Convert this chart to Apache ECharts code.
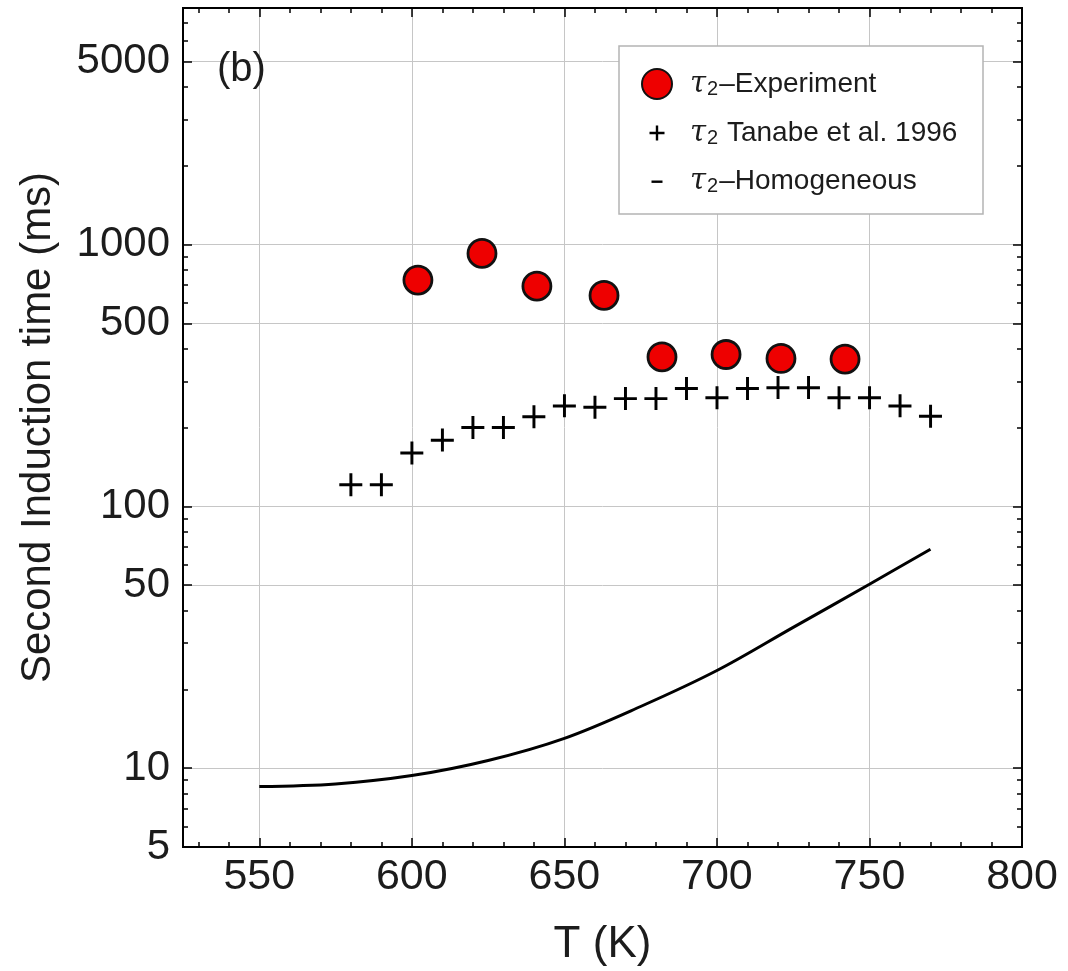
<!DOCTYPE html>
<html><head><meta charset="utf-8">
<script src="https://cdn.jsdelivr.net/npm/echarts@6/dist/echarts.min.js"></script>
<style>html,body{margin:0;padding:0;background:#fff}#c{width:1068px;height:971px}</style>
</head><body><div id="c"></div>
<script>
// ---- data ----
const expT   = [602, 623, 641, 663, 682, 703, 721, 742];
const expTau = [731, 924, 693, 639, 372, 380, 367, 365];
const tanT   = [580, 590, 600, 610, 620, 630, 640, 650, 660, 670, 680, 690, 700, 710, 720, 730, 740, 750, 760, 770];
const tanTau = [121, 121, 160, 179, 200, 200, 220, 242, 239, 258, 258, 282, 260, 282, 284, 284, 260, 260, 242, 221];
const homT   = [550, 575, 600, 625, 650, 675, 700, 725, 750, 770];
const homTau = [8.51, 8.71, 9.37, 10.7, 13.0, 17.2, 23.6, 34.5, 50.4, 68.6];
const xMajor = [550, 600, 650, 700, 750, 800];
const xMinor = [530, 540, 560, 570, 580, 590, 610, 620, 630, 640, 660, 670, 680, 690, 710, 720, 730, 740, 760, 770, 780, 790];
const yMajor = [5, 10, 50, 100, 500, 1000, 5000];
const yMinor = [6, 7, 8, 9, 20, 30, 40, 60, 70, 80, 90, 200, 300, 400, 600, 700, 800, 900, 2000, 3000, 4000, 6000, 7000];
const names = ['τ2–Experiment', 'τ2 Tanabe et al. 1996', 'τ2–Homogeneous'];

const FONT = 'Liberation Sans, Arial, sans-serif';
const TXT = '#1c1c1c';
const plusPath = 'path://M11,0 H14.2 V11 H25 V14.2 H14.2 V25 H11 V14.2 H0 V11 H11 Z';
const plusIcon = 'path://M0,0 M30,30 M13.8,7.5 H16.2 V13.8 H22.5 V16.2 H16.2 V22.5 H13.8 V16.2 H7.5 V13.8 H13.8 Z';
const dashIcon = 'path://M0,0 M30,30 M9.5,14.5 H20.5 V16.9 H9.5 Z';

const zip = (a, b) => a.map((v, i) => [v, b[i]]);

function xAx(pos, vals, len, withLabels, withGrid) {
  return {
    type: 'value', position: pos, min: 525, max: 800,
    axisLine: { show: true, onZero: false, lineStyle: { color: '#000', width: 2 } },
    axisTick: { show: true, inside: true, length: len, customValues: vals, lineStyle: { color: '#000', width: 1.5 } },
    axisLabel: withLabels ? { show: true, customValues: vals, fontSize: 43, fontFamily: FONT, color: TXT, margin: 9,
      formatter: v => String(Math.round(v)) } : { show: false },
    splitLine: { show: withGrid, lineStyle: { color: '#c6c6c6', width: 1 } },
    name: withLabels ? 'T (K)' : '', nameLocation: 'middle', nameGap: 76,
    nameTextStyle: { fontSize: 44, fontFamily: FONT, color: TXT }
  };
}
function yAx(pos, vals, len, withLabels, withGrid) {
  return {
    type: 'log', logBase: 10, position: pos, min: 5, max: 8000,
    axisLine: { show: true, onZero: false, lineStyle: { color: '#000', width: 2 } },
    axisTick: { show: true, inside: true, length: len, customValues: vals, lineStyle: { color: '#000', width: 1.5 } },
    axisLabel: withLabels ? { show: true, customValues: vals, fontSize: 42, fontFamily: FONT, color: TXT, margin: 13,
      formatter: v => String(Math.round(v)) } : { show: false },
    splitLine: { show: withGrid, lineStyle: { color: '#c6c6c6', width: 1 } },
    name: withLabels ? 'Second Induction time (ms)' : '', nameLocation: 'middle', nameGap: 124,
    nameTextStyle: { fontSize: 42, fontFamily: FONT, color: TXT }
  };
}

const chart = echarts.init(document.getElementById('c'), null, { renderer: 'canvas' });
chart.setOption({
  backgroundColor: '#fff',
  animation: false,
  grid: { left: 183, right: 46, top: 8, bottom: 124, containLabel: false, outerBoundsMode: 'none' },
  xAxis: [
    xAx('bottom', xMajor, 9, true, true),
    xAx('bottom', xMinor, 5, false, false),
    xAx('top', xMajor, 9, false, false),
    xAx('top', xMinor, 5, false, false)
  ],
  yAxis: [
    yAx('left', yMajor, 9, true, true),
    yAx('left', yMinor, 5, false, false),
    yAx('right', yMajor, 9, false, false),
    yAx('right', yMinor, 5, false, false)
  ],
  legend: {
    orient: 'vertical', left: 636, top: 63, itemWidth: 30, itemHeight: 30, itemGap: 18, itemTextGap: 27,
    z: 12,
    data: [
      { name: names[0], icon: 'circle' },
      { name: names[1], icon: plusIcon, itemStyle: { borderWidth: 0 } },
      { name: names[2], icon: dashIcon, itemStyle: { borderWidth: 0 } }
    ],
    formatter: function (name) {
      const rest = name.slice(2);
      return '{t|τ}{s|2}{n|' + rest + '}';
    },
    textStyle: {
      color: TXT, fontFamily: FONT, fontSize: 28,
      rich: {
        t: { fontSize: 29, fontStyle: 'italic', fontFamily: 'DejaVu Serif, serif', color: TXT, lineHeight: 30, padding: [0, 0, 0, 13] },
        s: { fontSize: 20, fontFamily: FONT, color: TXT, verticalAlign: 'bottom', lineHeight: 18, padding: [0, 1, 0, 1] },
        n: { fontSize: 28, fontFamily: FONT, color: TXT, lineHeight: 30 }
      }
    }
  },
  graphic: [
    { type: 'rect', z: 10, shape: { x: 619, y: 46, width: 364, height: 168 },
      style: { fill: '#fff', stroke: '#b4b4b4', lineWidth: 1.5 } },
    { type: 'text', z: 10, left: 217, top: 50,
      style: { text: '(b)', fontSize: 40, fontFamily: FONT, fill: TXT } }
  ],
  series: [
    { name: names[2], type: 'line', data: zip(homT, homTau), showSymbol: false, symbol: 'none', smooth: 0.35,
      lineStyle: { color: '#000', width: 3 }, itemStyle: { color: '#000' }, z: 3 },
    { name: names[1], type: 'scatter', data: zip(tanT, tanTau), symbol: plusPath, symbolSize: 23,
      itemStyle: { color: '#000', opacity: 1 }, z: 4 },
    { name: names[0], type: 'scatter', data: zip(expT, expTau), symbol: 'circle', symbolSize: 28,
      itemStyle: { color: '#ee0000', borderColor: '#111', borderWidth: 2.8, opacity: 1 }, z: 5 }
  ]
});
</script></body></html>
